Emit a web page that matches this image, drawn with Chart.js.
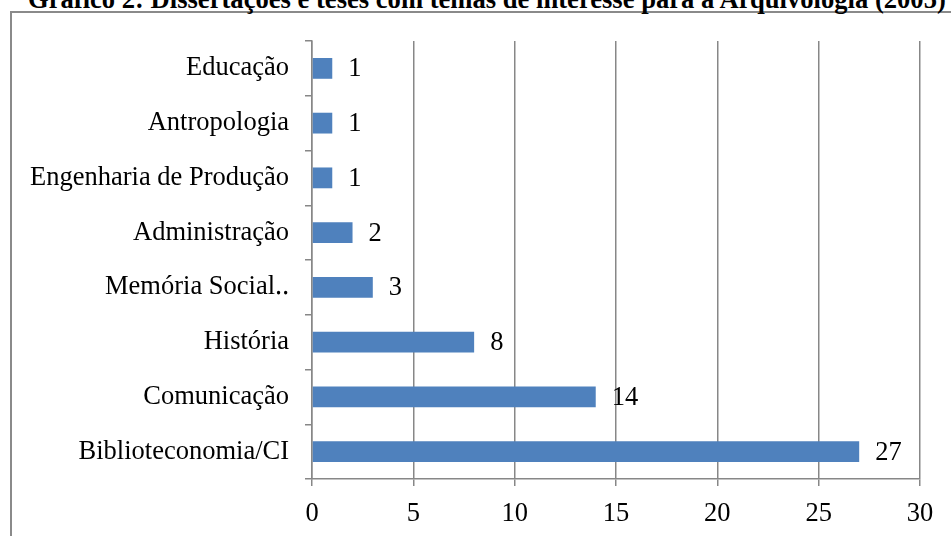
<!DOCTYPE html>
<html>
<head>
<meta charset="utf-8">
<script src="https://cdn.jsdelivr.net/npm/chart.js@4/dist/chart.umd.min.js"></script>
<style>
  body { margin: 0; background: #fff; overflow: hidden; }
  #wrap { position: relative; width: 951px; height: 536px; overflow: hidden; }
  #frame { position: absolute; left: 10px; top: 11px; width: 1000px; height: 600px;
           border-left: 2px solid #8a8a8a; border-top: 2px solid #8a8a8a; }
  #title { position: absolute; left: 28px; top: -16px; white-space: nowrap; line-height: 27px;
           font: bold 26.6px "Liberation Serif", "Times New Roman", serif; color: #000; }
  canvas { position: absolute; left: 0; top: 0; }
</style>
</head>
<body>
<div id="wrap">
  <div id="frame"></div>
  <div id="title">Gráfico 2: Dissertações e teses com temas de interesse para a Arquivologia (2005)</div>
  <canvas id="chart" width="951" height="536"></canvas>
</div>
<script>
// areas, top to bottom as in the picture
const categories = ['Educação', 'Antropologia', 'Engenharia de Produção', 'Administração',
  'Memória Social‥', 'História', 'Comunicação', 'Biblioteconomia/CI'];
const counts = [1, 1, 1, 2, 3, 8, 14, 27];
const xTicks = [0, 5, 10, 15, 20, 25, 30];

const gray = '#878787';
const serif = '"Liberation Serif", "Times New Roman", serif';

// number written to the right of every bar
const valueLabels = {
  id: 'valueLabels',
  afterDatasetsDraw(chart) {
    const ctx = chart.ctx;
    const meta = chart.getDatasetMeta(0);
    ctx.save();
    ctx.font = '26.5px ' + serif;
    ctx.fillStyle = '#000';
    ctx.textAlign = 'left';
    ctx.textBaseline = 'middle';
    meta.data.forEach((bar, i) => {
      ctx.fillText(String(counts[i]), bar.x + 16, bar.y + 1);
    });
    ctx.restore();
  }
};

new Chart(document.getElementById('chart'), {
  type: 'bar',
  data: {
    labels: categories,
    datasets: [{
      data: counts,
      backgroundColor: '#4f81bd',
      borderWidth: 0,
      categoryPercentage: 1,
      barPercentage: 0.38
    }]
  },
  options: {
    indexAxis: 'y',
    responsive: false,
    animation: false,
    layout: { padding: { left: 0, right: 31, top: 41, bottom: 0 } },
    plugins: { legend: { display: false }, tooltip: { enabled: false } },
    scales: {
      x: {
        min: 0,
        max: 30,
        afterBuildTicks: (scale) => { scale.ticks = xTicks.map(v => ({ value: v })); },
        afterFit: (scale) => { scale.height = 57; },
        grid: { color: gray, lineWidth: 1.5, tickLength: 7 },
        border: { color: gray, width: 1.5 },
        ticks: { color: '#000', padding: 12, font: { family: serif, size: 26.5 } }
      },
      y: {
        afterFit: (scale) => { scale.width = 312; },
        grid: { drawOnChartArea: false, color: gray, lineWidth: 1.5, tickLength: 7, offset: true },
        border: { color: gray, width: 1.5 },
        ticks: { color: '#000', padding: 16, font: { family: serif, size: 26.5 } }
      }
    }
  },
  plugins: [valueLabels]
});
</script>
</body>
</html>
